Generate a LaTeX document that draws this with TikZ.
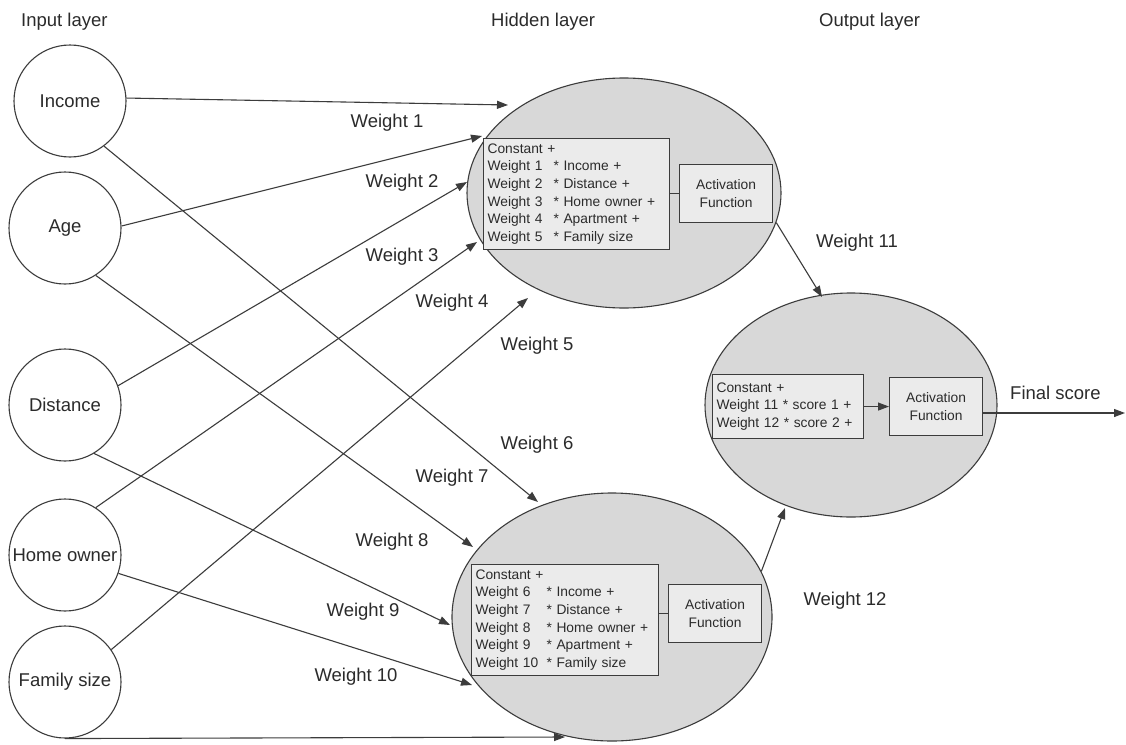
\documentclass[tikz,border=0pt]{standalone}
\usepackage{fontspec}
\setmainfont{Liberation Sans}
\usetikzlibrary{arrows.meta,shapes.geometric}
\definecolor{ln}{HTML}{3C3C3C}
\definecolor{tx}{HTML}{2B2B2B}
\definecolor{ell}{HTML}{D8D8D8}
\definecolor{bx}{HTML}{EBEBEB}
\begin{document}
\begin{tikzpicture}[x=1pt,y=-1pt,
  big/.style={font=\fontsize{18.5}{22}\selectfont, text=tx, inner sep=0pt},
  small/.style={font=\fontsize{13.8}{17.7}\selectfont, text=tx},
  inp/.style={circle, draw=ln, line width=1.1pt, minimum size=112pt, inner sep=0pt,
              font=\fontsize{18.5}{22}\selectfont, text=tx},
  hid/.style={ellipse, draw=ln, fill=ell, line width=1.1pt, inner sep=0pt},
  fbox/.style={draw=ln, fill=bx, line width=1.1pt, anchor=north west, small},
  abox/.style={fbox, minimum width=93pt, minimum height=58pt, inner sep=0pt, align=center},
  conn/.style={draw=ln, line width=1.1pt},
  arr/.style={conn, -{Triangle[length=11pt,width=8pt]}},
]
\useasboundingbox[fill=white] (0,0) rectangle (1126,744);

% layer titles
\node[big, anchor=base west] (lin) at (21,26) {Input layer};
\node[big, anchor=base west] (lhid) at (491,26) {Hidden layer};
\node[big, anchor=base west] (lout) at (819,26) {Output layer};

% input nodes
\node[inp] (income) at (70,101) {Income};
\node[inp] (age) at (65,228) {Age};
\node[inp] (dist) at (65,405) {Distance};
\node[inp] (home) at (65,555) {Home owner};
\node[inp] (fam) at (65,682) {Family size};

% hidden and output ellipses
\node[hid, minimum width=314pt, minimum height=230pt] (h1) at (624,193) {};
\node[hid, minimum width=320pt, minimum height=248pt] (h2) at (612,617) {};
\node[hid, minimum width=292pt, minimum height=224pt] (o) at (851,405) {};

% top hidden boxes
\node[fbox, text width=178pt, inner xsep=4pt, inner ysep=0pt, minimum height=111pt, align=left] (f1) at (483,138)
  {Constant +\\
   \makebox[66pt][l]{Weight 1}* Income +\\
   \makebox[66pt][l]{Weight 2}* Distance +\\
   \makebox[66pt][l]{Weight 3}* Home owner +\\
   \makebox[66pt][l]{Weight 4}* Apartment +\\
   \makebox[66pt][l]{Weight 5}* Family size};
\node[abox] (a1) at (679,164) {Activation\\Function};
\draw[conn] (a1.west -| f1.east) -- (a1.west);

% bottom hidden boxes
\node[fbox, text width=179pt, inner xsep=4pt, inner ysep=0pt, minimum height=111pt, align=left] (f2) at (471,564)
  {Constant +\\
   \makebox[71pt][l]{Weight 6}* Income +\\
   \makebox[71pt][l]{Weight 7}* Distance +\\
   \makebox[71pt][l]{Weight 8}* Home owner +\\
   \makebox[71pt][l]{Weight 9}* Apartment +\\
   \makebox[71pt][l]{Weight 10}* Family size};
\node[abox] (a2) at (668,584) {Activation\\Function};
\draw[conn] (a2.west -| f2.east) -- (a2.west);

% output boxes
\node[fbox, text width=143pt, inner xsep=4pt, inner ysep=0pt, minimum height=64pt, align=left] (f3) at (712,374)
  {Constant +\\
   Weight 11 * score 1 +\\
   Weight 12 * score 2 +};
\node[abox] (a3) at (889,377) {Activation\\Function};
\draw[arr] (f3.east) -- (a3.west);

% final score
\coordinate (fsend) at (1125,413);
\draw[arr] (a3.east |- fsend) -- (fsend);
\node[big, anchor=west] (fs) at (1010,393) {Final score};

% hidden -> output
\coordinate (o1) at (822,297);
\coordinate (o2) at (785,508);
\draw[arr] (h1.-11) -- (o1);
\draw[arr] (h2.17.6) -- (o2);

% input -> hidden arrow ends
\coordinate (t1) at (508,105);
\coordinate (t2) at (482,136);
\coordinate (t3) at (467,182);
\coordinate (t4) at (477,242);
\coordinate (t5) at (528,298);
\coordinate (t6) at (538,502);
\coordinate (t7) at (473,547);
\coordinate (t8) at (450,625);
\coordinate (t9) at (472,685);
\coordinate (t10) at (565,737);

\draw[arr] (income.3) -- (t1);
\draw[arr] (age.2) -- (t2);
\draw[arr] (dist.20) -- (t3);
\draw[arr] (home.57) -- (t4);
\draw[arr] (fam.35) -- (t5);
\draw[arr] (income.-53) -- (t6);
\draw[arr] (age.-57) -- (t7);
\draw[arr] (dist.-59) -- (t8);
\draw[arr] (home.-19) -- (t9);
\draw[arr] (fam.south) -- (t10);

% weight labels
\node[big] (w1) at (387,123) {Weight 1};
\node[big] (w2) at (402,183) {Weight 2};
\node[big] (w3) at (402,257) {Weight 3};
\node[big] (w4) at (452,303) {Weight 4};
\node[big] (w5) at (537,346) {Weight 5};
\node[big] (w6) at (537,445) {Weight 6};
\node[big] (w7) at (452,478) {Weight 7};
\node[big] (w8) at (392,542) {Weight 8};
\node[big] (w9) at (363,612) {Weight 9};
\node[big] (w10) at (356,677) {Weight 10};
\node[big] (w11) at (857,243) {Weight 11};
\node[big] (w12) at (845,601) {Weight 12};
\end{tikzpicture}
\end{document}
